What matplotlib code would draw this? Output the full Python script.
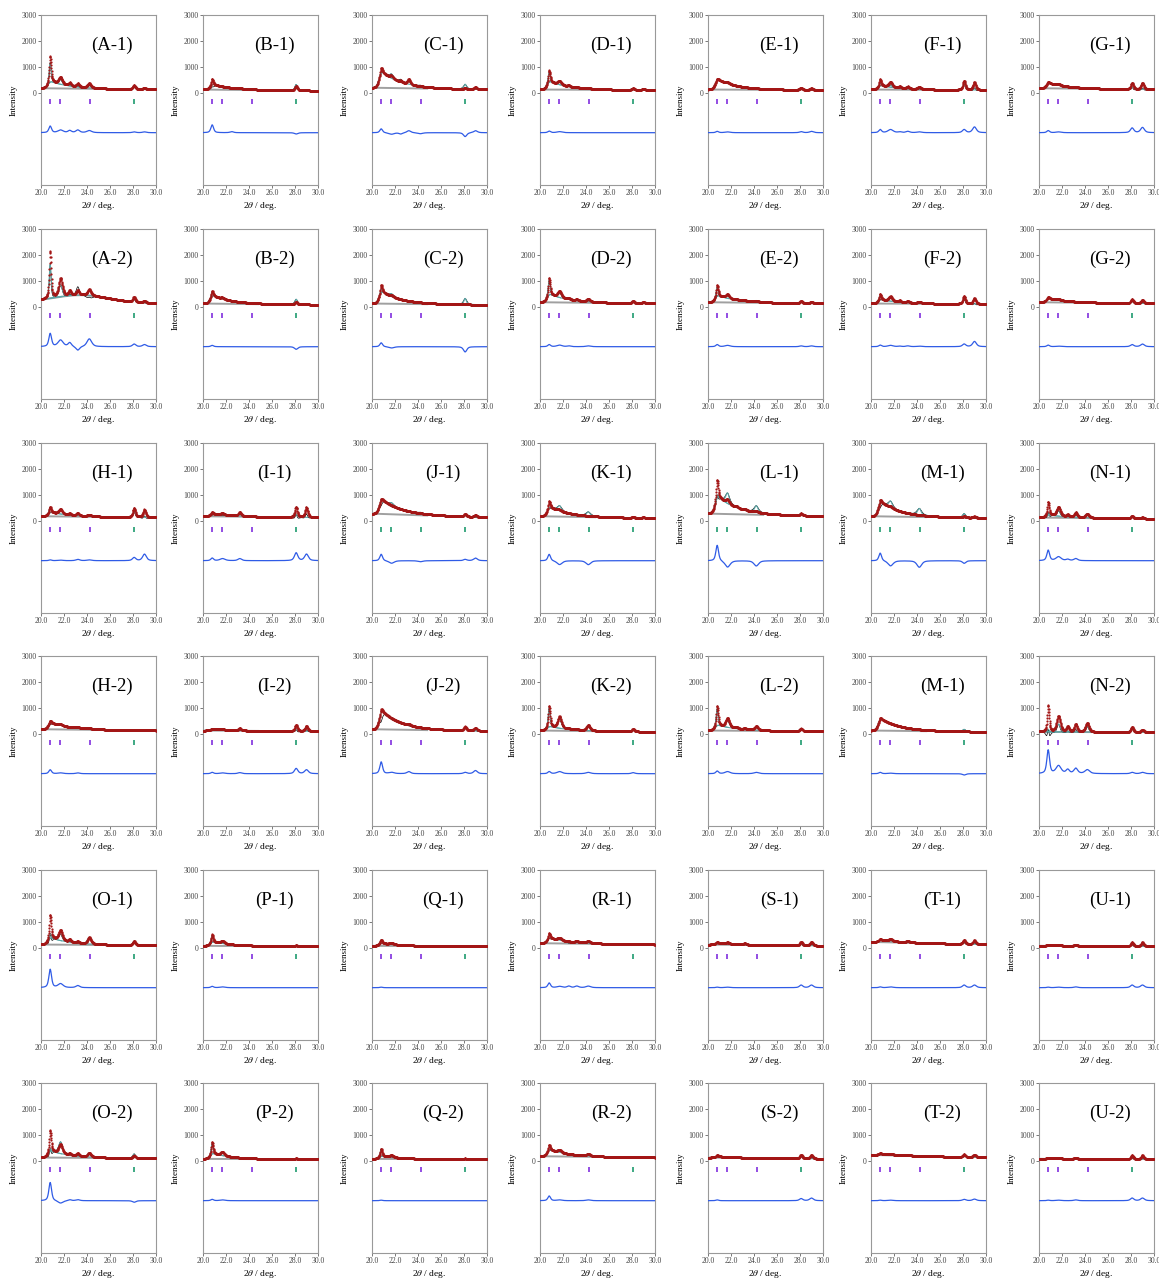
import numpy as np
import matplotlib
matplotlib.use("Agg")
import matplotlib.pyplot as plt

plt.rcParams["font.family"] = ["Liberation Serif", "DejaVu Serif"]
plt.rcParams["mathtext.fontset"] = "stix"

# ---- sample labels (row by row, 7 per row) ----
LABELS = [
    "A-1", "B-1", "C-1", "D-1", "E-1", "F-1", "G-1",
    "A-2", "B-2", "C-2", "D-2", "E-2", "F-2", "G-2",
    "H-1", "I-1", "J-1", "K-1", "L-1", "M-1", "N-1",
    "H-2", "I-2", "J-2", "K-2", "L-2", "M-1", "N-2",
    "O-1", "P-1", "Q-1", "R-1", "S-1", "T-1", "U-1",
    "O-2", "P-2", "Q-2", "R-2", "S-2", "T-2", "U-2",
]

# reflection positions (2theta, deg) and widths (FWHM, deg)
PEAK_POS = [20.8, 21.7, 22.5, 23.2, 24.2, 28.1, 29.0]
PEAK_FWHM = [0.20, 0.38, 0.25, 0.28, 0.35, 0.25, 0.28]

# background level at 20 deg and 30 deg
BKG_20 = [200, 150, 220, 150, 150, 150, 200,
          180, 150, 150, 200, 200, 150, 200,
          200, 200, 300, 200, 300, 200, 150,
          200, 150, 200, 150, 150, 150, 100,
          150, 100, 100, 200, 150, 250, 100,
          150, 100, 100, 200, 150, 250, 100]
BKG_30 = [150, 100, 150, 130, 130, 130, 150,
          150, 100, 100, 150, 150, 130, 150,
          150, 150, 150, 120, 200, 130, 100,
          150, 120, 130, 100, 120, 100, 80,
          120, 80, 80, 150, 100, 150, 80,
          120, 80, 80, 150, 100, 150, 80]

# amorphous hump (sharp rise near 20.9 deg, slow decay) and broad halo
HUMP = [250, 200, 600, 300, 380, 150, 200,
        0, 300, 450, 300, 250, 150, 150,
        150, 100, 550, 350, 650, 550, 100,
        250, 50, 700, 150, 200, 450, 0,
        250, 150, 100, 200, 50, 80, 20,
        250, 200, 100, 250, 50, 50, 20]
HALO = [0] * 7 + [300] + [0] * 34

# observed peak heights above background, one row per sample
PEAKS = [
    [1000, 280, 120, 130, 170, 150, 60],
    [220, 0, 0, 40, 30, 180, 40],
    [200, 100, 50, 200, 0, 30, 80],
    [450, 150, 50, 30, 30, 60, 40],
    [50, 50, 0, 0, 0, 80, 60],
    [250, 200, 60, 80, 80, 350, 300],
    [60, 50, 0, 0, 0, 250, 250],
    [1800, 700, 200, 180, 230, 200, 80],
    [200, 50, 0, 0, 0, 100, 40],
    [300, 50, 0, 0, 0, 30, 0],
    [650, 250, 50, 50, 100, 80, 50],
    [420, 150, 30, 30, 50, 80, 60],
    [220, 180, 60, 60, 60, 300, 220],
    [60, 40, 0, 0, 0, 150, 130],
    [230, 180, 60, 100, 60, 350, 300],
    [60, 60, 0, 150, 0, 400, 380],
    [50, 0, 0, 0, 0, 100, 80],
    [250, 50, 0, 0, 0, 30, 30],
    [700, 150, 50, 50, 50, 80, 0],
    [100, 50, 0, 0, 0, 50, 50],
    [500, 350, 80, 180, 150, 100, 50],
    [100, 50, 0, 50, 30, 20, 0],
    [30, 30, 0, 80, 0, 250, 200],
    [100, 0, 0, 50, 0, 150, 120],
    [800, 450, 30, 30, 200, 100, 0],
    [750, 350, 60, 40, 150, 100, 0],
    [50, 0, 0, 0, 0, 30, 0],
    [1000, 600, 200, 300, 350, 200, 100],
    [900, 400, 100, 60, 250, 150, 0],
    [300, 100, 0, 0, 0, 30, 0],
    [150, 60, 0, 0, 0, 0, 0],
    [200, 100, 0, 60, 80, 0, 0],
    [60, 60, 0, 50, 0, 150, 150],
    [50, 80, 0, 50, 0, 150, 150],
    [30, 30, 0, 50, 0, 150, 150],
    [800, 350, 60, 100, 150, 100, 0],
    [450, 150, 0, 0, 0, 30, 0],
    [300, 80, 0, 0, 0, 30, 0],
    [200, 100, 0, 0, 80, 0, 0],
    [50, 0, 0, 0, 0, 150, 130],
    [30, 30, 0, 30, 0, 100, 100],
    [30, 30, 0, 50, 0, 150, 150],
]

# residual (observed - calculated) amplitude at each reflection
DIFF = [
    [250, 100, 80, 100, 80, 30, 30],
    [300, 0, 40, 0, 0, -50, 0],
    [150, -60, -50, 80, -40, -150, 80],
    [60, 40, 0, 0, 0, 0, 0],
    [50, 30, 0, 0, 0, 40, 50],
    [120, 120, 30, 50, 30, 120, 220],
    [80, 30, 0, 0, 0, 180, 200],
    [500, 250, 150, -150, 300, 100, 80],
    [50, 0, 0, 0, 0, -100, 0],
    [150, -50, 0, 0, 0, -200, 0],
    [80, 60, 30, 0, 30, 0, 0],
    [80, 50, 0, 0, 0, 30, 30],
    [60, 50, 20, 30, 20, 100, 200],
    [60, 20, 0, 0, 0, 80, 100],
    [30, 20, 0, 50, 30, 120, 250],
    [100, 80, 0, 80, 0, 300, 250],
    [250, -100, 0, 0, -40, 50, 100],
    [250, -150, 0, 0, -150, 0, 0],
    [600, -250, 0, 0, -200, 0, 0],
    [300, -200, 0, 0, -250, -100, 0],
    [400, 150, 50, 80, 0, 0, 0],
    [150, 30, 0, 30, 0, 0, 0],
    [50, 30, 0, 40, 0, 200, 150],
    [450, 50, 0, 80, 0, 50, 120],
    [80, 80, 0, 0, 50, 40, 0],
    [100, 80, 0, 0, 50, 0, 0],
    [50, 20, 0, 0, 0, -50, 0],
    [900, 300, 150, 200, 150, 50, 50],
    [700, 150, 0, 80, 0, 0, 0],
    [50, 30, 0, 0, 0, 0, 0],
    [20, 0, 0, 0, 0, 0, 0],
    [180, 50, 60, 60, 60, 0, 0],
    [20, 20, 0, 0, 0, 100, 100],
    [30, 30, 0, 0, 0, 100, 100],
    [20, 20, 0, 30, 0, 100, 100],
    [700, -100, 40, 40, 0, -60, 0],
    [50, 30, 0, 0, 0, 0, 0],
    [20, 0, 0, 0, 0, 0, 0],
    [180, 30, 0, 0, 30, 0, 0],
    [30, 0, 0, 0, 0, 80, 100],
    [20, 20, 0, 0, 0, 50, 60],
    [20, 20, 0, 30, 0, 100, 100],
]

# Bragg reflection markers and the phase colour set of each sample
TICK_POS = [20.75, 21.65, 24.25, 28.1]
TICK_SET = ["p"] * 16 + ["g"] * 4 + ["p"] * 22

X_TICKS = [20.0, 22.0, 24.0, 26.0, 28.0, 30.0]
Y_TICKS = [0, 1000, 2000, 3000]

DIFF_OFFSET = -1500


def pv(x, x0, fwhm, eta=0.6):
    g = np.exp(-4 * np.log(2) * ((x - x0) / fwhm) ** 2)
    lo = 1.0 / (1.0 + 4 * ((x - x0) / fwhm) ** 2)
    return eta * lo + (1 - eta) * g


def hump_shape(x, x0=20.9):
    return np.where(x < x0, np.exp(-0.5 * ((x - x0) / 0.25) ** 2),
                    np.exp(-(x - x0) / 1.7))


x = np.arange(20.0, 30.0001, 0.02)

W, H = 1159, 1281
fig = plt.figure(figsize=(W / 100, H / 100), dpi=100)

col_left = [41, 203, 372, 540, 708, 871, 1039]
row_top = [15, 229, 443, 656, 870, 1083]
ax_w, ax_h = 115, 170

purple = "#8a3fe0"
green = "#2fa37a"
teal = "#5aa7a7"

for i, lab in enumerate(LABELS):
    r, c = divmod(i, 7)
    ax = fig.add_axes([col_left[c] / W, 1 - (row_top[r] + ax_h) / H,
                       ax_w / W, ax_h / H])

    lin = BKG_20[i] + (BKG_30[i] - BKG_20[i]) * (x - 20.0) / 10.0
    gray = lin + HALO[i] * np.exp(-((x - 23.5) ** 2) / 12.5)
    hump = HUMP[i] * hump_shape(x)
    pk = np.zeros_like(x)
    for p0, w, h in zip(PEAK_POS, PEAK_FWHM, PEAKS[i]):
        pk += h * pv(x, p0, w)
    obs = gray + hump + pk

    resid = np.zeros_like(x)
    for p0, w, d in zip(PEAK_POS, PEAK_FWHM, DIFF[i]):
        resid += d * pv(x, p0, w * 1.4)
    calc = obs - resid

    # background line
    m = x <= 24.8
    ax.plot(x[m], gray[m], color="#a0a0a0", lw=1.4, zorder=2)

    ax.plot(x, calc, color="black", lw=0.5, zorder=3)

    # amorphous component and crystalline components
    ax.plot(x[m], (gray + hump)[m], color=teal, lw=0.7, zorder=3.5)
    for k in (0, 1, 4, 5):
        comp_h = PEAKS[i][k] - DIFF[i][k]
        if comp_h > 40:
            win = np.abs(x - PEAK_POS[k]) < 1.0
            ax.plot(x[win], (gray + hump)[win] + comp_h * pv(x[win], PEAK_POS[k], PEAK_FWHM[k]),
                    color=teal, lw=0.8, zorder=3.5)

    ax.plot(x, obs, ls="none", marker=".", ms=3.2, mew=0,
            color="#a31616", zorder=4)

    # reflection markers
    cols = [purple, purple, purple, green] if TICK_SET[i] == "p" else [green] * 4
    ax.vlines(TICK_POS, -420, -220, colors=cols, lw=1.3, zorder=3)

    # residual curve
    ax.plot(x, DIFF_OFFSET + resid, color="#2f5be6", lw=0.9, zorder=3)

    ax.set_xlim(20, 30)
    ax.set_ylim(-3500, 3000)
    ax.set_xticks(X_TICKS)
    ax.set_xticklabels([f"{v:.1f}" for v in X_TICKS])
    ax.set_yticks(Y_TICKS)
    ax.set_yticklabels([str(v) for v in Y_TICKS])
    ax.tick_params(labelsize=5.5, length=2, width=0.5, pad=1,
                   colors="#444444", direction="out")
    for s in ax.spines.values():
        s.set_color("#999999")
        s.set_linewidth(0.8)

    ax.set_ylabel("Intensity", fontsize=6.5, labelpad=3)
    ax.set_xlabel(r"2$\theta$ / deg.", fontsize=6.8, labelpad=2)
    ax.text(26.2, 1850, f"({lab})", ha="center", va="center", fontsize=13.5)

fig.savefig("out.png", dpi=100)
